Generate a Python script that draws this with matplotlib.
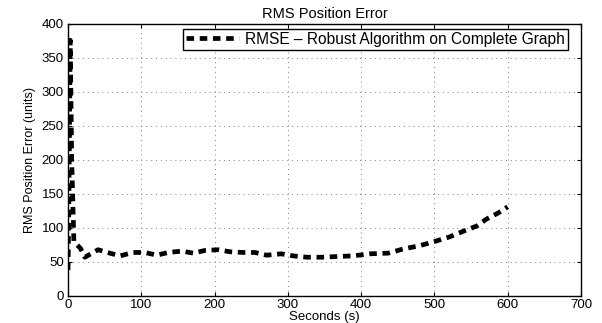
import numpy as np
import matplotlib.pyplot as plt

# Datos (segundos, error RMS)
tiempo = [0, 1, 3, 5, 8, 17, 23, 41, 57, 71, 89, 105, 121, 137, 155, 171, 187,
          205, 221, 239, 255, 271, 291, 307, 326, 346, 367, 389, 412, 437, 457,
          480, 500, 521, 539, 558, 571, 587, 600]
error_rms = [38, 120, 376, 200, 80, 70, 57, 68, 63, 59, 64, 64, 60, 64, 66, 63, 67,
             68, 65, 64, 64, 60, 62, 59, 57, 57, 58, 59, 62, 63, 69,
             74, 80, 87, 95, 103, 113, 122, 131]

etiqueta = 'RMSE \u2013 Robust Algorithm on Complete Graph'

plt.rcParams['font.family'] = ['Liberation Sans', 'DejaVu Sans']

fig = plt.figure(figsize=(6.02, 3.23), dpi=100)
ax = fig.add_axes([0.113, 0.0836, 0.852, 0.8424])

linea, = ax.plot(tiempo, error_rms, color='black', linewidth=3.4,
                 linestyle='--', dashes=(1.6, 1.2), label=etiqueta)

ax.set_xlim(0, 700)
ax.set_ylim(0, 400)
ax.set_xticks(np.arange(0, 701, 100))
ax.set_yticks(np.arange(0, 401, 50))
ax.grid(True, linestyle=(0, (1, 4)), color='#808080', linewidth=0.7)

ax.tick_params(direction='in', top=True, right=True, length=3, width=0.8,
               labelsize=9.5)
ax.tick_params(axis='x', pad=2)
ax.tick_params(axis='y', pad=3)
for s in ax.spines.values():
    s.set_linewidth(1.0)

ax.set_title('RMS Position Error', fontsize=10.5, pad=4)
ax.set_xlabel('Seconds (s)', fontsize=9.5, labelpad=0)
ax.set_ylabel('RMS Position Error (units)', fontsize=9, labelpad=4)

# Leyenda en la esquina superior derecha, como en la original
ax.legend(loc='upper right', bbox_to_anchor=(0.975, 0.982), fontsize=11.2,
          frameon=True, fancybox=False, edgecolor='black', framealpha=1,
          handlelength=3.4, borderpad=0.2, handletextpad=0.4, borderaxespad=0)

fig.savefig('out.png', dpi=100)
